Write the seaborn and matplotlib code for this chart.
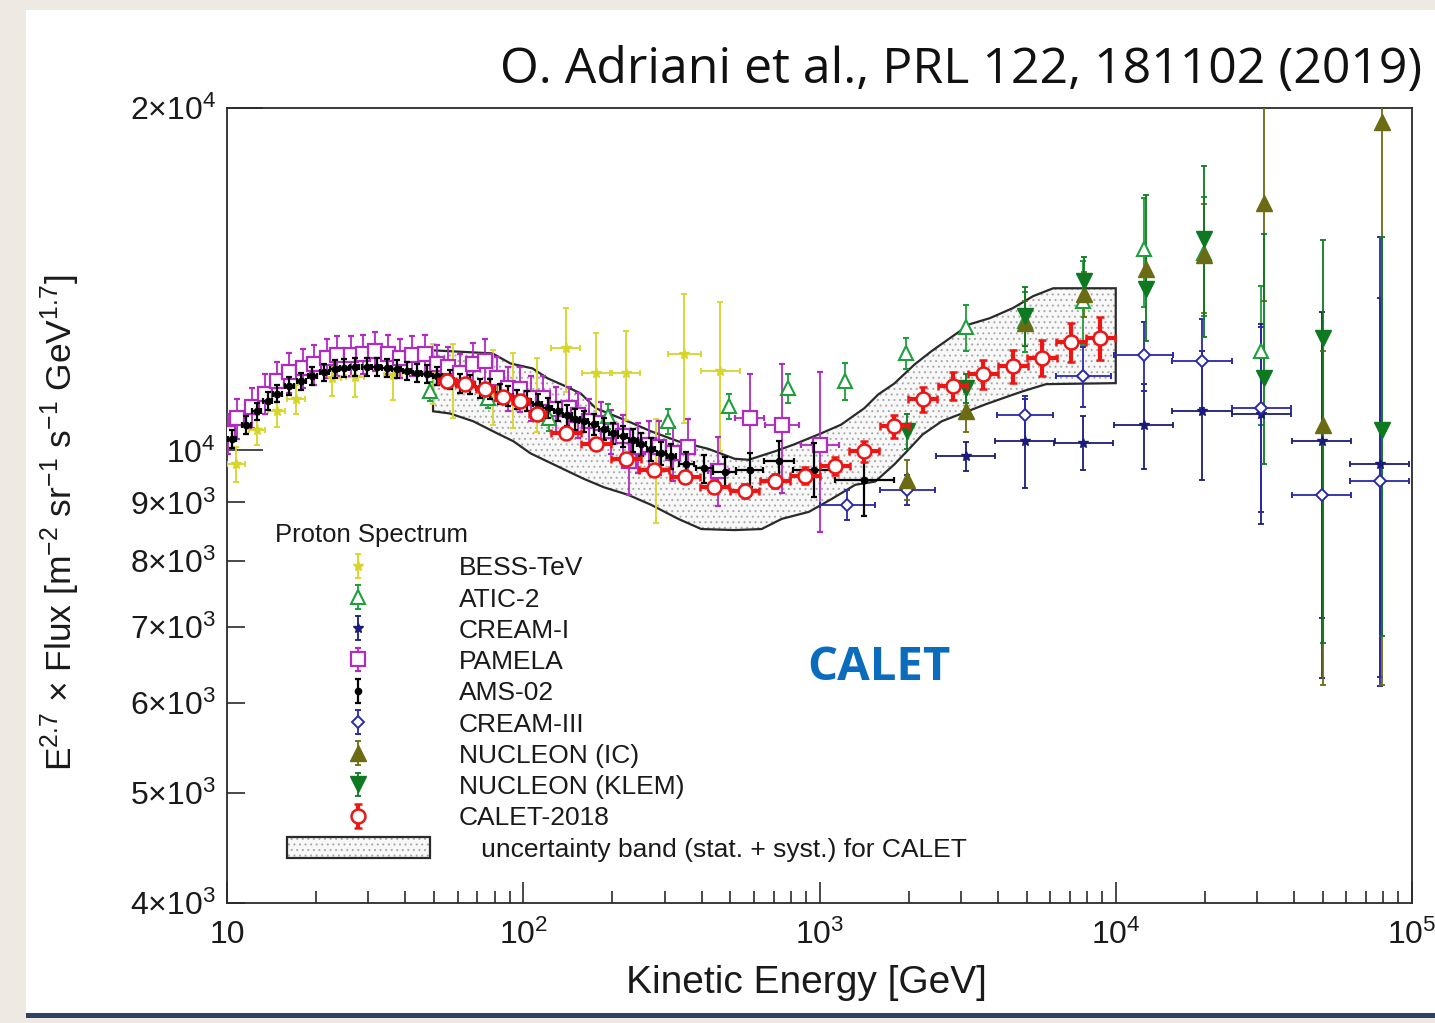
import numpy as np
import matplotlib
matplotlib.use("Agg")
import matplotlib.pyplot as plt
import seaborn as sns
from matplotlib.patches import Rectangle, Patch
from matplotlib.ticker import FixedLocator, FixedFormatter, LogLocator, NullFormatter
from matplotlib.container import ErrorbarContainer
from matplotlib.legend_handler import HandlerErrorbar

# ---- data (E in GeV, flux x E^2.7, errors in % of flux, x half-widths in dex) ----
ams_E = [10.4, 11.6, 12.6, 13.7, 14.8, 16.2, 17.8, 19.4, 21.3, 23.1,
         24.9, 27.0, 29.6, 32.0, 34.6, 37.4, 40.5, 43.8, 47.3, 51.2,
         56.6, 61.2, 66.2, 71.6, 77.4, 83.7, 89.1, 95.6, 103, 112,
         121, 131, 141, 150, 160, 173, 187, 201, 217, 235,
         250, 270, 292, 316, 355, 409, 478, 581, 729, 958, 1416]
ams_F = [10240, 10530, 10820, 11050, 11220, 11390, 11500, 11620, 11710, 11790,
         11810, 11840, 11840, 11840, 11810, 11790, 11740, 11690, 11670, 11620,
         11540, 11450, 11430, 11340, 11320, 11220, 11160, 11090, 11050, 10980,
         10890, 10820, 10740, 10650, 10610, 10540, 10450, 10350, 10290, 10210,
         10120, 10020, 9940, 9880, 9720, 9640, 9580, 9620, 9780, 9620, 9410]
ams_err = [1.8, 1.8, 1.8, 1.8, 1.8, 1.8, 1.8, 1.8, 1.8, 1.8,
           1.8, 1.8, 1.8, 1.8, 1.8, 1.8, 1.8, 1.8, 1.8, 1.8,
           1.9, 1.9, 1.9, 1.9, 2.0, 2.0, 2.0, 2.0, 2.0, 2.0,
           2.0, 2.0, 2.1, 2.1, 2.1, 2.1, 2.2, 2.2, 2.2, 2.3,
           2.3, 2.4, 2.4, 2.5, 2.6, 2.8, 3.1, 3.5, 4.2, 5.5, 7.0]
ams_dex = [0.015, 0.015, 0.015, 0.015, 0.015, 0.015, 0.015, 0.015, 0.015, 0.015,
           0.015, 0.015, 0.015, 0.015, 0.015, 0.015, 0.015, 0.015, 0.015, 0.015,
           0.015, 0.015, 0.015, 0.015, 0.015, 0.015, 0.015, 0.015, 0.015, 0.015,
           0.015, 0.015, 0.015, 0.015, 0.015, 0.015, 0.015, 0.015, 0.015, 0.015,
           0.015, 0.015, 0.015, 0.015, 0.025, 0.03, 0.04, 0.045, 0.05, 0.07, 0.1]

pam_E = [10.1, 10.8, 12.1, 13.4, 14.8, 16.2, 18.0, 19.7, 21.7, 23.6,
         26.3, 28.7, 31.5, 34.9, 38.3, 42.1, 46.6, 51.2, 55.8, 61.2,
         67.8, 74.5, 81.7, 89.1, 97.8, 105.8, 116.2, 128.6, 142.4, 152.8,
         166.5, 182.7, 197.6, 217.1, 227.5, 244.1, 266.1, 287.7, 320.9, 360.7,
         456, 581, 745.5, 1004]
pam_F = [10350, 10670, 10910, 11220, 11500, 11710, 11810, 11900, 12050, 12120,
         12120, 12150, 12230, 12150, 12050, 12120, 12150, 11900, 11850, 11690,
         11900, 11980, 11570, 11340, 11320, 11120, 11120, 10870, 10890, 10740,
         10610, 10560, 10390, 10290, 9780, 10060, 10100, 10060, 9940, 10060,
         9600, 10670, 10535, 10100]
pam_err = [4.0, 4.0, 4.0, 4.0, 4.0, 4.0, 4.0, 4.0, 4.0, 4.0,
           4.0, 4.0, 4.0, 4.0, 4.0, 4.0, 4.0, 4.0, 4.0, 4.0,
           4.5, 4.5, 4.5, 4.5, 4.5, 4.5, 4.5, 4.5, 4.5, 4.5,
           4.5, 4.5, 4.5, 4.5, 6.5, 5.0, 5.0, 5.5, 5.5, 6.0,
           7.0, 9.5, 13.0, 16.0]
pam_dex = [0.012, 0.012, 0.012, 0.012, 0.012, 0.012, 0.012, 0.012, 0.012, 0.012,
           0.012, 0.012, 0.012, 0.012, 0.012, 0.012, 0.012, 0.012, 0.012, 0.012,
           0.012, 0.012, 0.012, 0.012, 0.012, 0.012, 0.012, 0.012, 0.012, 0.012,
           0.012, 0.012, 0.012, 0.012, 0.012, 0.012, 0.012, 0.012, 0.012, 0.012,
           0.035, 0.05, 0.058, 0.065]

bess_E = [10.7, 12.6, 14.7, 17.1, 22.7, 27.0, 36.3, 49.6, 58.0, 79.3,
          92.7, 111.7, 139, 176, 222, 281, 350, 463]
bess_F = [9730, 10430, 10820, 11090, 11570, 11600, 11650, 11690, 11540, 11390,
          11320, 11220, 12300, 11690, 11690, 9640, 12150, 11740]
bess_err = [3.5, 3.0, 3.0, 3.0, 3.5, 4.0, 5.0, 6.0, 7.5, 7.5,
            7.5, 7.5, 8.5, 8.5, 9.0, 10.5, 13.0, 15.0]
bess_dex = [0.03, 0.027, 0.03, 0.03, 0.03, 0.03, 0.03, 0.03, 0.03, 0.03,
            0.03, 0.03, 0.05, 0.048, 0.048, 0.05, 0.057, 0.065]

atic_E = [48.4, 76.2, 121.8, 193.1, 308.6, 493, 782, 1221, 1966, 3116,
          4940, 7775, 12420, 19850, 30990]
atic_F = [11270, 11120, 10670, 10720, 10610, 10940, 11340, 11500, 12170, 12830,
          12990, 13530, 15030, 14920, 12230]
atic_err = [2.0, 2.0, 2.5, 2.5, 2.5, 2.5, 3.0, 3.7, 3.1, 4.6,
            6.0, 8.5, 11.0, 12.0, 14.0]

nuc_E = [1981, 3116, 4940, 7834, 12620, 19850, 31710, 49890, 79100]
ic_F = [9425, 10820, 12940, 13720, 14430, 14850, 16500, 10535, 19450]
ic_lo = [4.0, 4.0, 4.5, 4.5, 4.0, 11.0, 18.0, 41.0, 68.0]
ic_hi = [4.0, 4.0, 4.5, 4.5, 4.0, 11.0, 30.0, 16.0, 35.0]
klem_F = [10390, 11340, 13130, 14090, 13860, 15340, 11570, 12545, 10415]
klem_lo = [3.5, 3.0, 6.0, 5.0, 10.0, 18.0, 16.0, 46.0, 34.0]
klem_hi = [3.5, 3.0, 6.0, 5.0, 21.0, 16.0, 34.0, 22.0, 48.0]

c3_E = [1240, 1981, 4940, 7775, 12420, 19540, 30990, 49500, 77870]
c3_F = [8960, 9230, 10740, 11620, 12120, 11980, 10890, 9140, 9400]
c3_lo = [3.0, 3.0, 5.0, 6.0, 7.0, 9.0, 19.0, 31.0, 34.0]
c3_hi = [3.0, 3.0, 4.0, 6.0, 7.0, 9.0, 18.0, 14.0, 64.0]
c3_dex = [0.093, 0.093, 0.093, 0.093, 0.1, 0.1, 0.1, 0.1, 0.1]

c1_E = [3116, 4940, 7775, 12420, 19540, 30990, 49500, 77870]
c1_F = [9880, 10185, 10160, 10535, 10824, 10760, 10185, 9720]
c1_lo = [3.0, 9.0, 5.5, 8.5, 13.0, 20.0, 30.0, 35.0]
c1_hi = [3.0, 9.0, 5.5, 8.5, 13.0, 20.0, 30.0, 40.0]
c1_dex = [0.1, 0.1, 0.1, 0.1, 0.1, 0.1, 0.1, 0.1]

calet_E = [55.3, 63.7, 74.5, 85.7, 97.8, 111.7, 139.1, 175.9, 222.3, 276.6,
           352.4, 442.1, 558.8, 706.3, 892.9, 1129, 1416, 1789, 2227, 2815,
           3558, 4499, 5642, 7078, 8875]
calet_F = [11500, 11430, 11320, 11140, 11050, 10760, 10350, 10120, 9830, 9610,
           9480, 9290, 9210, 9400, 9500, 9690, 9980, 10500, 11090, 11390,
           11670, 11860, 12060, 12450, 12560]
calet_err = [0.8, 0.8, 0.8, 0.8, 0.8, 0.9, 1.0, 1.0, 1.0, 1.1,
             1.2, 1.3, 1.4, 1.5, 1.7, 1.9, 2.1, 2.3, 2.5, 2.8,
             3.0, 3.3, 3.6, 3.9, 4.3]
calet_dex = [0.03, 0.03, 0.03, 0.03, 0.03, 0.03, 0.05, 0.05, 0.05, 0.05,
             0.05, 0.05, 0.05, 0.05, 0.05, 0.05, 0.05, 0.05, 0.05, 0.05,
             0.05, 0.05, 0.05, 0.05, 0.05]

band_up_E = [49.6, 78.7, 90.5, 107.5, 120.9, 139.1, 156.4, 175.9, 225.8, 270,
             333.7, 421.9, 516.9, 576.6, 706.3, 819.4, 1012, 1183, 1416, 1579,
             1789, 2093, 2390, 2815, 3215, 3760, 4499, 5260, 6151, 10000]
band_up_F = [12245, 12170, 11925, 11805, 11570, 11385, 11220, 10890, 10607, 10394,
             10185, 10030, 9832, 9812, 9980, 10120, 10350, 10535, 10890, 11200,
             11450, 11900, 12226, 12600, 12910, 13070, 13340, 13665, 13885, 13885]
band_lo_E = [49.6, 56.6, 67.8, 81.7, 92.7, 105.8, 126.6, 160.1, 187.2, 225.8,
             270, 333.7, 399, 516.9, 637.7, 745.5, 921, 1103, 1320, 1543,
             1789, 2012, 2227, 2586, 3023, 3644, 4162, 4864, 5821, 10000]
band_lo_F = [10824, 10775, 10607, 10350, 10185, 9940, 9720, 9440, 9280, 9140,
             8957, 8705, 8528, 8510, 8528, 8705, 8830, 9068, 9327, 9389,
             9720, 10036, 10325, 10607, 10775, 10980, 11115, 11273, 11435, 11458]

x_ticks = [10, 100, 1000, 10000, 100000]
x_tick_labels = ['10', r'$10^{2}$', r'$10^{3}$', r'$10^{4}$', r'$10^{5}$']
y_major = [10000, 20000]
y_major_labels = [r'$10^{4}$', r'$2{\times}10^{4}$']
y_minor = [4000, 5000, 6000, 7000, 8000, 9000]
y_minor_labels = [r'$4{\times}10^{3}$', r'$5{\times}10^{3}$', r'$6{\times}10^{3}$',
                  r'$7{\times}10^{3}$', r'$8{\times}10^{3}$', r'$9{\times}10^{3}$']

sns.set_theme(style="ticks")
plt.rcParams['font.family'] = ['Liberation Sans', 'DejaVu Sans']
plt.rcParams['mathtext.fontset'] = 'custom'
plt.rcParams['mathtext.rm'] = 'Liberation Sans'
plt.rcParams['mathtext.it'] = 'Liberation Sans:italic'
plt.rcParams['mathtext.bf'] = 'Liberation Sans:bold'
plt.rcParams['hatch.linewidth'] = 0.7

W, H = 1435, 1023
fig = plt.figure(figsize=(W / 100, H / 100), dpi=100)
fig.patch.set_facecolor('#eeeae3')
fig.add_artist(Rectangle((26 / W, 10 / H), 1, 1003 / H, transform=fig.transFigure,
                         facecolor='white', edgecolor='none', zorder=0))
fig.add_artist(Rectangle((26 / W, 5 / H), 1, 5 / H, transform=fig.transFigure,
                         facecolor='#2f4263', edgecolor='none', zorder=0))

ax = fig.add_axes([227 / W, 120 / H, 1185 / W, 795 / H])
ax.set_facecolor('white')
ax.set_xscale('log')
ax.set_yscale('log')
ax.set_xlim(10, 1e5)
ax.set_ylim(4000, 20000)


def pct(F, p):
    return np.asarray(F) * np.asarray(p) / 100.0


def xbar(E, dex):
    E = np.asarray(E, float)
    d = np.asarray(dex, float)
    return [E - E * 10 ** (-d), E * 10 ** d - E]


# uncertainty band (dotted fill + outline)
band_x = band_up_E + band_lo_E[::-1]
band_y = band_up_F + band_lo_F[::-1]
ax.fill(band_x, band_y, facecolor='#f8f8f8', edgecolor='#a8a8a8', hatch='...',
        linewidth=0, zorder=1)
ax.fill(band_x, band_y, fill=False, edgecolor='#2a2a2a', linewidth=1.6, zorder=2)

kw = dict(linestyle='none', capsize=2.5, elinewidth=1.3, capthick=1.3)

h_bess = ax.errorbar(bess_E, bess_F, yerr=pct(bess_F, bess_err), xerr=xbar(bess_E, bess_dex),
                     fmt='*', color='#d6d62a', ms=8, zorder=3, label='BESS-TeV', **kw)
h_atic = ax.errorbar(atic_E, atic_F, yerr=pct(atic_F, atic_err),
                     fmt='^', color='#1f9e3c', mfc='white', mew=1.5, ms=10, zorder=4,
                     label='ATIC-2', **kw)
h_c1 = ax.errorbar(c1_E, c1_F, yerr=[pct(c1_F, c1_lo), pct(c1_F, c1_hi)], xerr=xbar(c1_E, c1_dex),
                   fmt='*', color='#1c1c78', ms=7, zorder=4, label='CREAM-I', **kw)
h_pam = ax.errorbar(pam_E, pam_F, yerr=pct(pam_F, pam_err), xerr=xbar(pam_E, pam_dex),
                    fmt='s', color='#b02cc0', mfc='white', mew=1.6, ms=10, zorder=3,
                    label='PAMELA', **kw)
h_ams = ax.errorbar(ams_E, ams_F, yerr=pct(ams_F, ams_err), xerr=xbar(ams_E, ams_dex),
                    fmt='o', color='black', ms=4.5, zorder=5, label='AMS-02',
                    linestyle='none', capsize=2.5, elinewidth=1.6, capthick=1.6)
h_c3 = ax.errorbar(c3_E, c3_F, yerr=[pct(c3_F, c3_lo), pct(c3_F, c3_hi)], xerr=xbar(c3_E, c3_dex),
                   fmt='D', color='#2a2aa8', mfc='white', mew=1.4, ms=6, zorder=4,
                   label='CREAM-III', **kw)
h_ic = ax.errorbar(nuc_E, ic_F, yerr=[pct(ic_F, ic_lo), pct(ic_F, ic_hi)],
                   fmt='^', color='#6b6b14', ms=11, zorder=4, label='NUCLEON (IC)', **kw)
h_klem = ax.errorbar(nuc_E, klem_F, yerr=[pct(klem_F, klem_lo), pct(klem_F, klem_hi)],
                     fmt='v', color='#0d7a22', ms=11, zorder=4, label='NUCLEON (KLEM)', **kw)
h_calet = ax.errorbar(calet_E, calet_F, yerr=pct(calet_F, calet_err), xerr=xbar(calet_E, calet_dex),
                      fmt='o', color='#ee1515', mfc='white', mew=1.8, ms=10, zorder=6,
                      label='CALET-2018', linestyle='none', capsize=3, elinewidth=3, capthick=2.5)

# axes styling
for s in ax.spines.values():
    s.set_linewidth(1.3)
    s.set_color('#2a2a2a')
ax.xaxis.set_major_locator(FixedLocator(x_ticks))
ax.xaxis.set_major_formatter(FixedFormatter(x_tick_labels))
ax.xaxis.set_minor_locator(LogLocator(base=10, subs=np.arange(2, 10)))
ax.xaxis.set_minor_formatter(NullFormatter())
ax.yaxis.set_major_locator(FixedLocator(y_major))
ax.yaxis.set_major_formatter(FixedFormatter(y_major_labels))
ax.yaxis.set_minor_locator(FixedLocator(y_minor))
ax.yaxis.set_minor_formatter(FixedFormatter(y_minor_labels))
ax.tick_params(which='both', direction='in', top=False, right=False, colors='#2a2a2a',
               labelcolor='#1a1a1a', width=1.2)
ax.tick_params(axis='x', which='major', length=15, pad=12, labelsize=23)
ax.tick_params(axis='x', which='minor', length=9)
ax.tick_params(axis='y', which='major', length=26, pad=8, labelsize=23)
ax.tick_params(axis='y', which='minor', length=13, pad=8, labelsize=23)

ax.set_xlabel('Kinetic Energy [GeV]', fontsize=28, color='#1a1a1a')
ax.xaxis.set_label_coords(0.4886, -0.078)
ax.set_ylabel(r'E$^{2.7}$ $\times$ Flux [m$^{-2}$ sr$^{-1}$ s$^{-1}$ GeV$^{1.7}$]',
              fontsize=25.5, color='#1a1a1a')
ax.yaxis.set_label_coords(-0.122, 0.478)

# legend
band_fill = Patch(facecolor='#f8f8f8', edgecolor='#a8a8a8', hatch='...', linewidth=0)
band_edge = Patch(fill=False, edgecolor='#2a2a2a', linewidth=1.6)
handles = [h_bess, h_atic, h_c1, h_pam, h_ams, h_c3, h_ic, h_klem, h_calet, (band_fill, band_edge)]
labels = ['BESS-TeV', 'ATIC-2', 'CREAM-I', 'PAMELA', 'AMS-02', 'CREAM-III',
          'NUCLEON (IC)', 'NUCLEON (KLEM)', 'CALET-2018',
          '   uncertainty band (stat. + syst.) for CALET']
leg = ax.legend(handles, labels, loc='upper left', bbox_to_anchor=(287 / W, 1 - 556 / H),
                bbox_transform=fig.transFigure, frameon=False, fontsize=19,
                handlelength=5.4, handleheight=0.8, handletextpad=1.1, labelspacing=0.265,
                borderpad=0, borderaxespad=0, numpoints=1,
                handler_map={ErrorbarContainer: HandlerErrorbar(xerr_size=0.0, yerr_size=0.45)})
for t in leg.get_texts():
    t.set_color('#1a1a1a')
fig.text(275 / W, 1 - 535 / H, 'Proton Spectrum', fontsize=18.5, color='#1a1a1a',
         ha='left', va='center')

fig.text(1422 / W, 1 - 70 / H, 'O. Adriani et al., PRL 122, 181102 (2019)',
         fontsize=36, family='Open Sans', color='#111111', ha='right', va='center')
fig.text(879 / W, 1 - 668 / H, 'CALET', fontsize=34, family='Open Sans', fontweight='bold',
         color='#0b6cbd', ha='center', va='center')

fig.savefig('out.png', dpi=100, facecolor=fig.get_facecolor())
